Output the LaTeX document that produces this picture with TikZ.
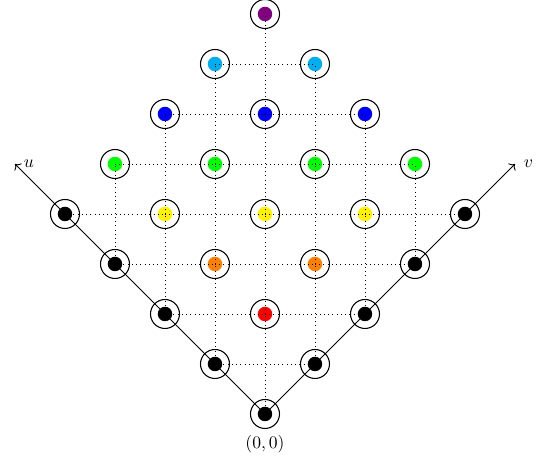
\documentclass[tikz,border=0pt]{standalone}
\usepackage{amsmath}
\usepackage{tikz}
\usetikzlibrary{arrows.meta, positioning}

% 各层颜色
\colorlet{lev0}{black}
\colorlet{lev1}{black}
\colorlet{lev2}{red}
\colorlet{lev3}{orange}
\colorlet{lev4}{yellow}
\colorlet{lev5}{green}
\colorlet{lev6}{blue}
\colorlet{lev7}{cyan}
\definecolor{lev8}{rgb}{0.5,0,0.5}

\begin{document}
\begin{tikzpicture}[
  ring/.style={circle, draw, line width=0.6pt, inner sep=0pt, minimum size=0.58cm},
  dot/.style={circle, inner sep=0pt, minimum size=0.29cm}
]
  \useasboundingbox (-5.3,-1.08) rectangle (5.66,8.28);

  % 格点 (a,b)，位于 (b-a, a+b)
  \foreach \a in {0,...,4} {
    \foreach \b in {0,...,4} {
      \pgfmathtruncatemacro{\k}{(\a*\b==0) ? 0 : \a+\b}
      \node[ring] (p-\a-\b) at (\b-\a,\a+\b) {};
      \node[dot, fill=lev\k] (d-\a-\b) at (p-\a-\b) {};
    }
  }

  % 绘制虚线网格
  \foreach \a [evaluate=\a as \an using int(\a+1)] in {0,...,3} {
    \foreach \b [evaluate=\b as \bn using int(\b+1)] in {0,...,3} {
      \draw[dotted] (p-\a-\b.center) -- (p-\an-\bn.center);
    }
  }
  \foreach \a [evaluate=\a as \am using int(\a-1)] in {1,...,4} {
    \foreach \b [evaluate=\b as \bn using int(\b+1)] in {0,...,3} {
      \draw[dotted] (p-\a-\b.center) -- (p-\am-\bn.center);
    }
  }

  % 坐标轴 u, v
  \coordinate (u) at (-5,5);
  \coordinate (v) at (5,5);
  \draw[->, line width=0.5pt] (p-0-0.center) -- (u) node[right=1.5pt] {$u$};
  \draw[->, line width=0.5pt] (p-0-0.center) -- (v) node[right=1.5pt] {$v$};

  % 原点标记
  \node[below=0pt of p-0-0] (o) {$(0,0)$};
\end{tikzpicture}
\end{document}
